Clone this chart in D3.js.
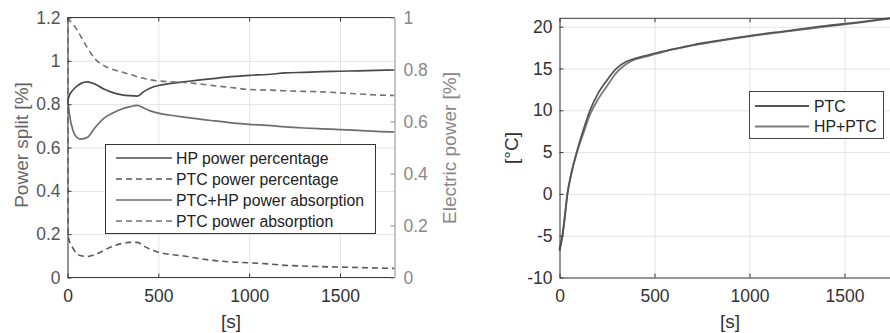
<!DOCTYPE html>
<html><head><meta charset="utf-8">
<script src="https://cdn.jsdelivr.net/npm/d3@7"></script>
<style>
body{margin:0;background:#fff;}
svg{display:block;font-family:"Liberation Sans",Arial,sans-serif;}
</style></head><body>
<svg id="c" width="890" height="333"></svg>
<script>
// ---- data (left panel) ----
const tLeft = [0, 3, 10, 30, 50, 75, 108, 150, 200, 250, 300, 340, 385, 420, 460, 500, 560, 640, 720, 800, 900, 1000, 1100, 1200, 1300, 1400, 1500, 1600, 1700, 1800];
const hpPercentage = [0.80, 0.82, 0.84, 0.865, 0.882, 0.896, 0.903, 0.893, 0.87, 0.853, 0.843, 0.839, 0.837, 0.858, 0.876, 0.886, 0.895, 0.903, 0.911, 0.918, 0.927, 0.933, 0.937, 0.944, 0.947, 0.950, 0.952, 0.954, 0.956, 0.958];
const ptcPercentage = [1.2, 0.2, 0.17, 0.135, 0.112, 0.1, 0.097, 0.105, 0.125, 0.145, 0.157, 0.162, 0.162, 0.145, 0.128, 0.117, 0.107, 0.099, 0.088, 0.079, 0.072, 0.068, 0.063, 0.056, 0.053, 0.050, 0.048, 0.046, 0.044, 0.042];
const ptcHpAbsorption = [0.685, 0.67, 0.63, 0.565, 0.54, 0.532, 0.538, 0.575, 0.612, 0.633, 0.648, 0.656, 0.662, 0.652, 0.64, 0.632, 0.625, 0.617, 0.61, 0.603, 0.595, 0.589, 0.585, 0.579, 0.575, 0.572, 0.569, 0.566, 0.562, 0.56];
const ptcAbsorption = [1.0, 0.997, 0.99, 0.975, 0.955, 0.925, 0.885, 0.842, 0.815, 0.8, 0.79, 0.782, 0.772, 0.766, 0.76, 0.756, 0.753, 0.75, 0.745, 0.738, 0.731, 0.723, 0.721, 0.718, 0.716, 0.714, 0.71, 0.706, 0.702, 0.70];
const leftTicksX = [0, 500, 1000, 1500];
const leftTicksY = [0, 0.2, 0.4, 0.6, 0.8, 1, 1.2];
const rightTicksY = [0, 0.2, 0.4, 0.6, 0.8, 1];
const leftLegend = ["HP power percentage", "PTC power percentage", "PTC+HP power absorption", "PTC power absorption"];

// ---- data (right panel) ----
const tRight = [0, 8, 16, 25, 42, 60, 91, 125, 161, 200, 250, 300, 350, 400, 450, 500, 600, 700, 800, 1000, 1200, 1400, 1600, 1800];
const tempPTC = [-6.8, -6.0, -5.0, -3.4, 0, 2.2, 5.0, 7.6, 10.0, 11.9, 13.6, 15.0, 15.8, 16.2, 16.5, 16.8, 17.3, 17.8, 18.2, 18.9, 19.5, 20.1, 20.6, 21.2];
const tempHPPTC = [-6.6, -5.8, -4.8, -3.2, 0.1, 2.2, 4.9, 7.2, 9.5, 11.2, 12.9, 14.5, 15.5, 16.1, 16.4, 16.7, 17.3, 17.75, 18.15, 18.85, 19.45, 20.0, 20.55, 21.15];
const rightTicksX = [0, 500, 1000, 1500];
const tempTicks = [-10, -5, 0, 5, 10, 15, 20];
const rightLegend = ["PTC", "HP+PTC"];

const svg = d3.select("#c");
const FONT_TICK = 17.5, FONT_LAB = 19, FONT_LEG = 15.8;
const fmt = d => String(d);

// ================= LEFT PANEL =================
const L = {x0: 67.5, x1: 394.5, y0: 277.5, y1: 17.5};
const xL = d3.scaleLinear().domain([0, 1800]).range([L.x0, L.x1]);
const yL = d3.scaleLinear().domain([0, 1.2]).range([L.y0, L.y1]);
const yR = d3.scaleLinear().domain([0, 1]).range([L.y0, L.y1]);

const gL = svg.append("g");
gL.append("g").attr("transform",`translate(0,${L.y0})`)
  .call(d3.axisBottom(xL).tickValues(leftTicksX).tickSize(-(L.y0-L.y1)).tickFormat(""))
  .call(g=>{g.select(".domain").remove(); g.selectAll("line").attr("stroke","#e3e3e3");});
gL.append("g").attr("transform",`translate(${L.x0},0)`)
  .call(d3.axisLeft(yL).tickValues(leftTicksY).tickSize(-(L.x1-L.x0)).tickFormat(""))
  .call(g=>{g.select(".domain").remove(); g.selectAll("line").attr("stroke","#e3e3e3");});

const lineOn = (ys, yScale) => d3.line().x((d,i)=>xL(tLeft[i])).y(d=>yScale(d)).curve(d3.curveMonotoneX)(ys);
const leftStyles = [
  {data: hpPercentage, y: yL, color: "#4a4a4a", dash: null, w: 1.7},
  {data: ptcPercentage, y: yL, color: "#5a5a5a", dash: "6,4", w: 1.6},
  {data: ptcHpAbsorption, y: yR, color: "#6e6e6e", dash: null, w: 1.7},
  {data: ptcAbsorption, y: yR, color: "#727272", dash: "6,4", w: 1.6}
];
svg.append("clipPath").attr("id","clipL").append("rect")
  .attr("x",L.x0).attr("y",L.y1-2).attr("width",L.x1-L.x0).attr("height",L.y0-L.y1+2);
leftStyles.forEach(s=>{
  gL.append("path").attr("d", lineOn(s.data, s.y)).attr("fill","none")
    .attr("stroke", s.color).attr("stroke-width", s.w).attr("stroke-dasharray", s.dash)
    .attr("clip-path","url(#clipL)");
});

gL.append("line").attr("x1",L.x0).attr("x2",L.x1).attr("y1",L.y1).attr("y2",L.y1).attr("stroke","#3a3a3a");
gL.append("line").attr("x1",L.x0).attr("x2",L.x1).attr("y1",L.y0).attr("y2",L.y0).attr("stroke","#3a3a3a");

gL.append("g").attr("transform",`translate(0,${L.y0})`)
  .call(d3.axisBottom(xL).tickValues(leftTicksX).tickSizeInner(-4).tickSizeOuter(0).tickPadding(12).tickFormat(fmt))
  .call(g=>{g.select(".domain").remove(); g.selectAll("line").attr("stroke","#3a3a3a");
    g.selectAll("text").attr("font-size",FONT_TICK).attr("fill","#333").attr("font-family","Liberation Sans, Arial");});
gL.append("g").attr("transform",`translate(0,${L.y1})`)
  .call(d3.axisTop(xL).tickValues(leftTicksX).tickSizeInner(-4).tickSizeOuter(0).tickFormat(""))
  .call(g=>{g.select(".domain").remove(); g.selectAll("line").attr("stroke","#3a3a3a");});
gL.append("g").attr("transform",`translate(${L.x0},0)`)
  .call(d3.axisLeft(yL).tickValues(leftTicksY).tickSizeInner(-4).tickSizeOuter(0).tickPadding(7).tickFormat(fmt))
  .call(g=>{g.select(".domain").attr("stroke","#3a3a3a"); g.selectAll("line").attr("stroke","#3a3a3a");
    g.selectAll("text").attr("font-size",FONT_TICK).attr("fill","#555").attr("font-family","Liberation Sans, Arial");});
gL.append("g").attr("transform",`translate(${L.x1},0)`)
  .call(d3.axisRight(yR).tickValues(rightTicksY).tickSizeInner(-4).tickSizeOuter(0).tickPadding(9).tickFormat(fmt))
  .call(g=>{g.select(".domain").attr("stroke","#8a8a8a"); g.selectAll("line").attr("stroke","#8a8a8a");
    g.selectAll("text").attr("font-size",FONT_TICK).attr("fill","#888").attr("font-family","Liberation Sans, Arial");});

svg.append("text").attr("transform","translate(28,145) rotate(-90)").attr("text-anchor","middle")
  .attr("font-size",FONT_LAB).attr("fill","#666").text("Power split [%]");
svg.append("text").attr("transform","translate(456,148) rotate(-90)").attr("text-anchor","middle")
  .attr("font-size",FONT_LAB).attr("fill","#888").text("Electric power [%]");
svg.append("text").attr("x",231).attr("y",328).attr("text-anchor","middle")
  .attr("font-size",FONT_LAB).attr("fill","#333").text("[s]");

const lg = svg.append("g");
lg.append("rect").attr("x",105.5).attr("y",144.5).attr("width",270).attr("height",89)
  .attr("fill","#fff").attr("stroke","#333").attr("stroke-width",1);
leftLegend.forEach((name,i)=>{
  const yy = 158 + i*21;
  const s = leftStyles[i];
  lg.append("line").attr("x1",116).attr("x2",172).attr("y1",yy).attr("y2",yy)
    .attr("stroke",s.color).attr("stroke-width",1.6).attr("stroke-dasharray",s.dash);
  lg.append("text").attr("x",176).attr("y",yy+5.5).attr("font-size",FONT_LEG).attr("fill","#222").text(name);
});

// ================= RIGHT PANEL =================
const R = {x0: 559.5, y0: 277.5, y1: 18.3};
const xT = d3.scaleLinear().domain([0, 1800]).range([R.x0, R.x0 + 1800*95/500]);
const yT = d3.scaleLinear().domain([-10, 21]).range([R.y0, R.y1]);
const gR = svg.append("g");
const R_x1 = xT(1800);
gR.append("g").attr("transform",`translate(0,${R.y0})`)
  .call(d3.axisBottom(xT).tickValues(rightTicksX).tickSize(-(R.y0-R.y1)).tickFormat(""))
  .call(g=>{g.select(".domain").remove(); g.selectAll("line").attr("stroke","#e3e3e3");});
gR.append("g").attr("transform",`translate(${R.x0},0)`)
  .call(d3.axisLeft(yT).tickValues(tempTicks).tickSize(-(R_x1-R.x0)).tickFormat(""))
  .call(g=>{g.select(".domain").remove(); g.selectAll("line").attr("stroke","#e3e3e3");});

const lineT = d3.line().x(d=>xT(d[0])).y(d=>yT(d[1])).curve(d3.curveMonotoneX);
const rightStyles = [
  {data: tempPTC, color: "#555"},
  {data: tempHPPTC, color: "#7a7a7a"}
];
[rightStyles[1], rightStyles[0]].forEach(s=>{
  gR.append("path").attr("d", lineT(tRight.map((t,i)=>[t, s.data[i]]))).attr("fill","none")
    .attr("stroke", s.color).attr("stroke-width", 1.8);
});

gR.append("line").attr("x1",R.x0).attr("x2",R_x1).attr("y1",R.y1).attr("y2",R.y1).attr("stroke","#3a3a3a");
gR.append("g").attr("transform",`translate(0,${R.y0})`)
  .call(d3.axisBottom(xT).tickValues(rightTicksX).tickSizeInner(-4).tickSizeOuter(0).tickPadding(12).tickFormat(fmt))
  .call(g=>{g.select(".domain").attr("stroke","#3a3a3a"); g.selectAll("line").attr("stroke","#3a3a3a");
    g.selectAll("text").attr("font-size",FONT_TICK).attr("fill","#333").attr("font-family","Liberation Sans, Arial");});
gR.append("g").attr("transform",`translate(0,${R.y1})`)
  .call(d3.axisTop(xT).tickValues(rightTicksX).tickSizeInner(-4).tickSizeOuter(0).tickFormat(""))
  .call(g=>{g.select(".domain").remove(); g.selectAll("line").attr("stroke","#3a3a3a");});
gR.append("g").attr("transform",`translate(${R.x0},0)`)
  .call(d3.axisLeft(yT).tickValues(tempTicks).tickSizeInner(-4).tickSizeOuter(0).tickPadding(7).tickFormat(fmt))
  .call(g=>{g.select(".domain").attr("stroke","#3a3a3a"); g.selectAll("line").attr("stroke","#3a3a3a");
    g.selectAll("text").attr("font-size",FONT_TICK).attr("fill","#333").attr("font-family","Liberation Sans, Arial");});

svg.append("text").attr("transform","translate(518,148) rotate(-90)").attr("text-anchor","middle")
  .attr("font-size",FONT_LAB).attr("fill","#333").text("[°C]");
svg.append("text").attr("x",730).attr("y",328).attr("text-anchor","middle")
  .attr("font-size",FONT_LAB).attr("fill","#333").text("[s]");

const rg = svg.append("g");
rg.append("rect").attr("x",749.5).attr("y",91.5).attr("width",134).attr("height",47)
  .attr("fill","#fff").attr("stroke","#444").attr("stroke-width",1);
rightLegend.forEach((name,i)=>{
  const yy = 106 + i*20.5;
  rg.append("line").attr("x1",755).attr("x2",809).attr("y1",yy).attr("y2",yy)
    .attr("stroke",rightStyles[i].color).attr("stroke-width",1.8);
  rg.append("text").attr("x",814).attr("y",yy+5.5).attr("font-size",FONT_LEG).attr("fill","#222").text(name);
});
</script>
</body></html>
